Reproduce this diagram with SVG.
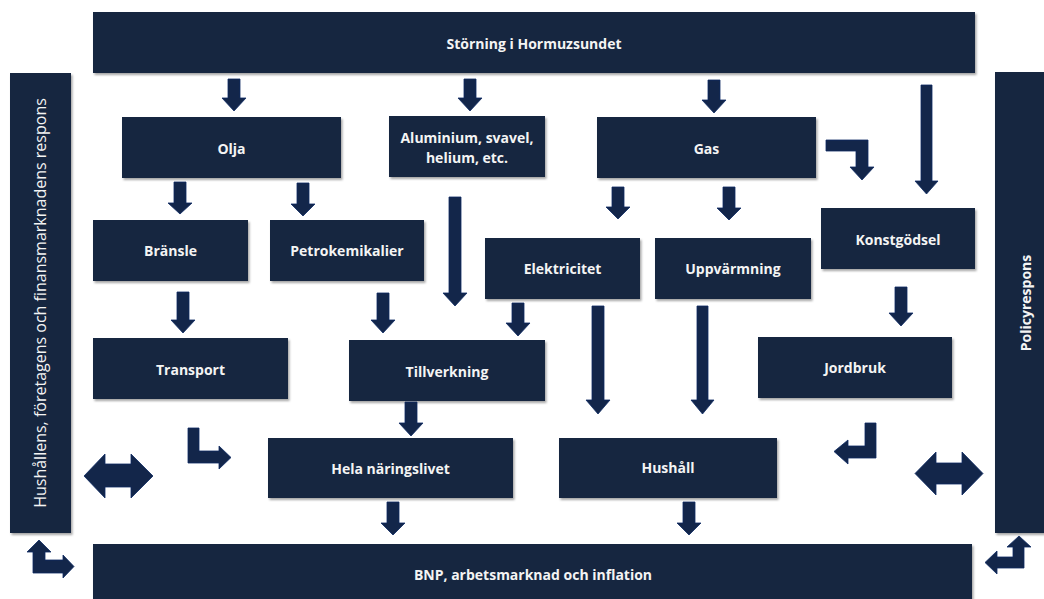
<svg xmlns="http://www.w3.org/2000/svg" width="1044" height="599" viewBox="0 0 1044 599">
<defs>
<filter id="sh" x="-10%" y="-10%" width="120%" height="130%">
<feDropShadow dx="1.5" dy="2" stdDeviation="1.2" flood-color="#000" flood-opacity="0.35"/>
</filter>
<style>
.box{fill:#12253f;filter:url(#sh);}
.lbl{fill:#f4f4f4;font-family:"Open Sans","Noto Sans",sans-serif;font-weight:700;font-size:14px;text-anchor:middle;dominant-baseline:central;}
.side{fill:#f4f4f4;font-family:"Open Sans","Noto Sans",sans-serif;font-weight:400;font-size:16px;text-anchor:middle;dominant-baseline:central;}
.arr{fill:#13264a;stroke:#0c2a63;stroke-width:0.8;stroke-linejoin:miter;}
</style>
</defs>
<rect width="1044" height="599" fill="#ffffff"/>

<g id="n-storning"><rect class="box" x="93" y="12" width="882" height="61"/><text class="lbl" x="534" y="43">Störning i Hormuzsundet</text></g>
<g id="n-olja"><rect class="box" x="122" y="117" width="219" height="61"/><text class="lbl" x="231.5" y="148">Olja</text></g>
<g id="n-aluminium"><rect class="box" x="389" y="116" width="156" height="61"/><text class="lbl" x="467" y="137">Aluminium, svavel,</text><text class="lbl" x="467" y="157">helium, etc.</text></g>
<g id="n-gas"><rect class="box" x="597" y="117" width="219" height="61"/><text class="lbl" x="706.5" y="148">Gas</text></g>
<g id="n-bransle"><rect class="box" x="93" y="220" width="155" height="61"/><text class="lbl" x="170.5" y="250">Bränsle</text></g>
<g id="n-petro"><rect class="box" x="270" y="220" width="154" height="61"/><text class="lbl" x="347" y="250">Petrokemikalier</text></g>
<g id="n-elektricitet"><rect class="box" x="485" y="238" width="155" height="61"/><text class="lbl" x="562.5" y="268">Elektricitet</text></g>
<g id="n-uppvarmning"><rect class="box" x="655" y="238" width="156" height="61"/><text class="lbl" x="733" y="268">Uppvärmning</text></g>
<g id="n-konstgodsel"><rect class="box" x="821" y="208" width="154" height="61"/><text class="lbl" x="898" y="239">Konstgödsel</text></g>
<g id="n-transport"><rect class="box" x="93" y="338" width="195" height="61"/><text class="lbl" x="190.5" y="369">Transport</text></g>
<g id="n-tillverkning"><rect class="box" x="349" y="340" width="196" height="61"/><text class="lbl" x="447" y="371">Tillverkning</text></g>
<g id="n-jordbruk"><rect class="box" x="758" y="337" width="194" height="61"/><text class="lbl" x="855" y="367">Jordbruk</text></g>
<g id="n-hela"><rect class="box" x="268" y="438" width="245" height="60"/><text class="lbl" x="390.5" y="468">Hela näringslivet</text></g>
<g id="n-hushall"><rect class="box" x="559" y="438" width="218" height="60"/><text class="lbl" x="668" y="467">Hushåll</text></g>
<g id="n-bnp"><rect class="box" x="93" y="544" width="879" height="60"/><text class="lbl" x="533" y="574">BNP, arbetsmarknad och inflation</text></g>
<g id="n-hushallens"><rect class="box" x="10" y="73" width="61" height="460"/><text class="side" transform="translate(40 303) rotate(-90)">Hushållens,  företagens och finansmarknadens  respons</text></g>
<g id="n-policy"><rect class="box" x="995" y="72" width="50" height="461"/><text class="lbl" transform="translate(1025 303) rotate(-90)">Policyrespons</text></g>

<g id="connectors">
<path class="arr" d="M228 79H240V98H246L234 111L222 98H228Z"/>
<path class="arr" d="M464 79H476V98H482L470 111L458 98H464Z"/>
<path class="arr" d="M708 80H720V100H726L714 113L702 100H708Z"/>
<path class="arr" d="M921 85H932V181H938L926.5 194L915 181H921Z"/>
<path class="arr" d="M174 182H186V203H192L180 214L168 203H174Z"/>
<path class="arr" d="M297 183H309V204H315L303 216L291 204H297Z"/>
<path class="arr" d="M449 197H461V293H467L455 306L443 293H449Z"/>
<path class="arr" d="M612 187H624V207H630L618 219L606 207H612Z"/>
<path class="arr" d="M723 187H735V208H741L729 220L717 208H723Z"/>
<path class="arr" d="M177 292H189V320H195L183 333L171 320H177Z"/>
<path class="arr" d="M377 293H389V320H395L383 333L371 320H377Z"/>
<path class="arr" d="M512 303H524V323H530L518 336L506 323H512Z"/>
<path class="arr" d="M895 287H907V313H913L901 326L889 313H895Z"/>
<path class="arr" d="M592 306H604V400H610L598 414L586 400H592Z"/>
<path class="arr" d="M697 306H708V400H714L702.5 414L691 400H697Z"/>
<path class="arr" d="M405 402H417V423H423L411 436L399 423H405Z"/>
<path class="arr" d="M387 502H399V523H405L393 535L381 523H387Z"/>
<path class="arr" d="M683 502H695V523H701L689 535L677 523H683Z"/>
<path class="arr" d="M826 140H868V167H874L862 180L850 167H856V151H826Z"/>
<path class="arr" d="M188 428H199V451H219V446L231 457.5L219 469V463H188Z"/>
<path class="arr" d="M865 423H876V458H848V464L834 451.5L848 440V446H865Z"/>
<path class="arr" d="M84 476L105 454V464H131V454L153 476L131 498V487H105V498Z"/>
<path class="arr" d="M915 473.5L936 452V463H962V452L983 473.5L962 495V484H936V495Z"/>
<path class="arr" d="M33 573V552H27L39 540L51 552H45V560H63V555L74 566.5L63 578V573Z"/>
<path class="arr" d="M1024 568V547H1031L1019 536L1007 547H1013V557H997V551L985 562.5L997 574V568Z"/>
</g>
</svg>
